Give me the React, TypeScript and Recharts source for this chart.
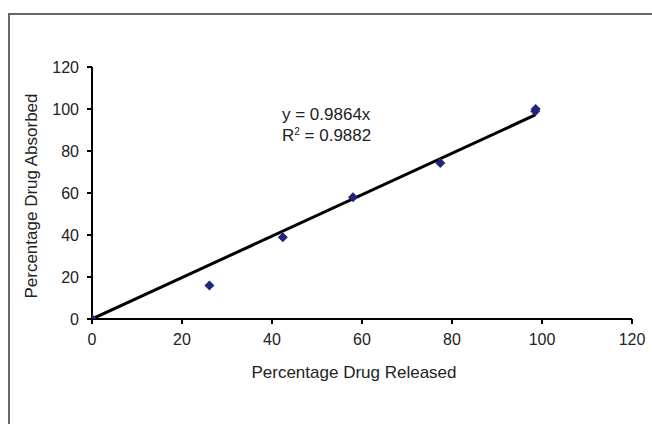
import React from "react";
import {
  ScatterChart,
  Scatter,
  XAxis,
  YAxis,
  Label,
} from "recharts";

// percentage drug released (x) vs absorbed (y)
const released = [0, 26.1, 42.4, 58.0, 77.4, 98.5, 98.6];
const absorbed = [0, 15.9, 38.9, 58.0, 74.3, 98.9, 100.0];

const slope = 0.9864;
const trendX = [0, 98.5];

const xTicks = [0, 20, 40, 60, 80, 100, 120];
const yTicks = [0, 20, 40, 60, 80, 100, 120];

const points = released.map((x, i) => ({ x, y: absorbed[i] }));
const trend = trendX.map((x) => ({ x, y: slope * x }));

const font = "'Liberation Sans', Arial, sans-serif";
const tickStyle = { fontSize: 16, fill: "#222", fontFamily: font };
const titleStyle = { fontSize: 17, fill: "#222", fontFamily: font };

const Diamond = (props: any) => {
  const { cx, cy } = props;
  const r = 5;
  return (
    <path
      d={`M${cx},${cy - r}L${cx + r},${cy}L${cx},${cy + r}L${cx - r},${cy}Z`}
      fill="#22237a"
    />
  );
};

export default function App() {
  return (
    <div
      style={{
        position: "fixed",
        left: 0,
        top: 0,
        width: 652,
        height: 424,
        background: "#fff",
        overflow: "hidden",
      }}
    >
      <div
        style={{
          position: "absolute",
          left: 8,
          top: 13,
          width: 700,
          height: 500,
          borderLeft: "2px solid #666",
          borderTop: "2px solid #666",
        }}
      />
      <div style={{ position: "absolute", left: 0, top: 0 }}>
        <ScatterChart
          width={652}
          height={424}
          margin={{ top: 67, right: 20, bottom: 75, left: 32 }}
        >
          <XAxis
            type="number"
            dataKey="x"
            domain={[0, 120]}
            ticks={xTicks}
            allowDataOverflow
            height={30}
            tickSize={5}
            tickMargin={10}
            stroke="#000"
            strokeWidth={2}
            tick={tickStyle}
          >
            <Label
              value="Percentage Drug Released"
              position="bottom"
              offset={17}
              dx={-8}
              style={titleStyle}
            />
          </XAxis>
          <YAxis
            type="number"
            dataKey="y"
            domain={[0, 120]}
            ticks={yTicks}
            allowDataOverflow
            width={60}
            tickSize={5}
            tickMargin={8}
            stroke="#000"
            strokeWidth={2}
            tick={tickStyle}
          >
            <Label
              value="Percentage Drug Absorbed"
              angle={-90}
              position="insideLeft"
              offset={-1}
              dy={3}
              style={{ ...titleStyle, textAnchor: "middle" }}
            />
          </YAxis>
          <Scatter
            data={trend}
            line={{ stroke: "#000", strokeWidth: 3 }}
            shape={() => null}
            isAnimationActive={false}
          />
          <Scatter data={points} shape={<Diamond />} isAnimationActive={false} />
        </ScatterChart>
      </div>
      <div
        style={{
          position: "absolute",
          left: 282,
          top: 104,
          fontFamily: font,
          fontSize: 17,
          color: "#222",
          lineHeight: "21px",
        }}
      >
        <div>y = 0.9864x</div>
        <div>
          R<sup style={{ fontSize: 10, verticalAlign: "6px", lineHeight: 0 }}>2</sup> = 0.9882
        </div>
      </div>
    </div>
  );
}
